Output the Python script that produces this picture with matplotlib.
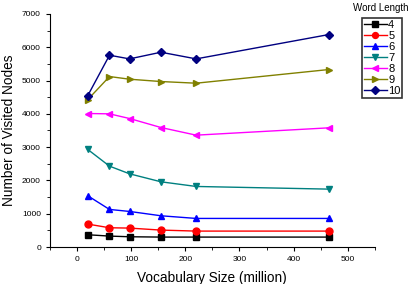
import matplotlib
matplotlib.use("Agg")
import matplotlib.pyplot as plt
from matplotlib.ticker import MultipleLocator

plt.rcParams['font.family'] = ['Liberation Sans', 'DejaVu Sans']

vocab = [20, 60, 97, 155, 220, 465]
labels = ['4', '5', '6', '7', '8', '9', '10']
series = {
    '4': [370, 330, 310, 300, 300, 300],
    '5': [690, 580, 570, 510, 480, 480],
    '6': [1540, 1130, 1070, 940, 860, 860],
    '7': [2930, 2430, 2200, 1960, 1820, 1740],
    '8': [4010, 4000, 3860, 3590, 3360, 3580],
    '9': [4430, 5120, 5040, 4970, 4920, 5330],
    '10': [4550, 5760, 5650, 5850, 5650, 6380],
}
colors = ['#000000', '#ff0000', '#0000ff', '#008080', '#ff00ff', '#808000', '#000080']
markers = ['s', 'o', '^', 'v', '<', '>', 'D']

W, H = 416, 284
fig = plt.figure(figsize=(W / 100, H / 100), dpi=100)
ax = fig.add_axes([0.12, 0.13, 0.781, 0.821])
for lab, c, m in zip(labels, colors, markers):
    ax.plot(vocab, series[lab], color=c, marker=m, markersize=5 if m != 'D' else 4.5,
            linewidth=1, label=lab)

ax.set_xlim(-50, 550)
ax.set_ylim(0, 7000)
ax.xaxis.set_major_locator(MultipleLocator(100))
ax.xaxis.set_minor_locator(MultipleLocator(50))
ax.yaxis.set_major_locator(MultipleLocator(1000))
ax.yaxis.set_minor_locator(MultipleLocator(500))
ax.spines['top'].set_visible(False)
ax.spines['right'].set_visible(False)
ax.tick_params(axis='both', which='major', labelsize=6, length=3, direction='out')
ax.tick_params(axis='both', which='minor', length=2, direction='out')
ax.set_xlabel('Vocabulary Size (million)', fontsize=9.8, labelpad=6)
ax.set_ylabel('Number of Visited Nodes', fontsize=9.8)

leg = fig.legend(loc='upper left', bbox_to_anchor=(362 / W, 1 - 18 / H),
                 fontsize=8, frameon=True, fancybox=False,
                 handlelength=2.1, handletextpad=0.1, borderpad=0.15, labelspacing=0.1,
                 borderaxespad=0, edgecolor='black', markerscale=0.85)
leg.get_frame().set_linewidth(1.2)
fig.text(381 / W, 1 - 8 / H, 'Word Length', fontsize=7, ha='center', va='center')

fig.savefig('out.png', dpi=100)
